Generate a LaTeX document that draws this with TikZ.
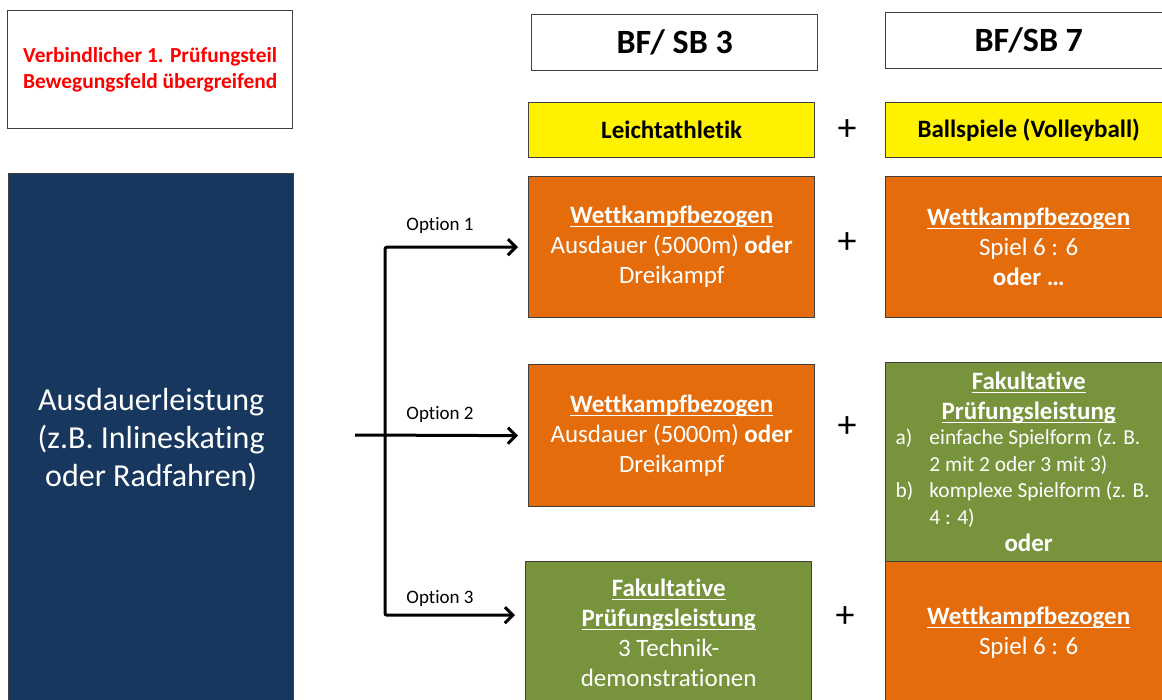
\documentclass[tikz,border=0pt]{standalone}
\usepackage{fontspec}
\setmainfont{Carlito}[Ligatures=NoCommon]
\usetikzlibrary{arrows.meta}
\definecolor{orangebox}{HTML}{E46C0A}
\definecolor{greenbox}{HTML}{77933C}
\definecolor{bluebox}{HTML}{17375E}
\newcommand{\ulhead}[1]{\underline{\raisebox{0pt}[\height][0pt]{\textbf{#1}}}}
\tikzset{
  box/.style={draw=black!75, line width=0.7pt, minimum width=143pt, inner sep=2pt, align=center, anchor=north west},
  headbox/.style={box, minimum height=28pt, font=\fontsize{17}{20}\selectfont\bfseries},
  sportbox/.style={box, fill=yellow, minimum height=27.5pt, font=\fontsize{12.5}{15}\selectfont\bfseries},
  wkbox/.style={box, fill=orangebox, text=white, font=\fontsize{12.5}{15}\selectfont},
  fakbox/.style={box, fill=greenbox, text=white, font=\fontsize{12.5}{15}\selectfont},
  plus/.style={font=\fontsize{19}{19}\selectfont},
  opt/.style={font=\fontsize{9.5}{11}\selectfont},
  arr/.style={line width=1.5pt, -{Straight Barb[length=4pt,width=8pt]}, shorten >=5pt},
}
\begin{document}
\begin{tikzpicture}[x=0.5pt,y=-0.5pt]
\path[use as bounding box, clip] (0,0) rectangle (1162,700);
% left column
\node[box, minimum width=142.5pt, minimum height=59pt, text=red, font=\fontsize{10.7}{13}\selectfont\bfseries] (pflicht) at (7,10) {Verbindlicher 1. Prüfungsteil\\Bewegungsfeld übergreifend};
\node[box, fill=bluebox, text=white, minimum width=142.5pt, minimum height=266pt, font=\fontsize{16}{19}\selectfont] (ausdauer) at (8,173) {Ausdauerleistung\\(z.B. Inlineskating\\oder Radfahren)};
% headers
\node[headbox] (bf3) at (531,14) {BF/ SB 3};
\node[headbox] (bf7) at (885,12) {BF/SB 7};
\node[sportbox] (la) at (528,102) {Leichtathletik};
\node[sportbox] (bs) at (885,102) {Ballspiele (Volleyball)};
% option 1
\node[wkbox, minimum height=70.5pt] (la1) at (528,176) {\ulhead{Wettkampfbezogen}\\Ausdauer (5000m) \textbf{oder}\\Dreikampf};
\node[wkbox, minimum height=70.5pt] (bs1) at (885,176) {\ulhead{Wettkampfbezogen}\\Spiel 6 : 6\\\textbf{oder \dots}};
% option 2
\node[wkbox, minimum height=71pt] (la2) at (528,364) {\ulhead{Wettkampfbezogen}\\Ausdauer (5000m) \textbf{oder}\\Dreikampf};
\node[fakbox, minimum height=99.5pt] (bs2) at (885,362) {\ulhead{Fakultative}\\\ulhead{Prüfungsleistung}\\
  {\fontsize{10.7}{13.3}\selectfont\begin{tabular}{@{}l@{\hspace{8pt}}l@{\hspace{6pt}}}
  a) & einfache Spielform (z. B.\\
     & 2 mit 2 oder 3 mit 3)\\
  b) & komplexe Spielform (z. B.\\
     & 4 : 4)
  \end{tabular}}\\
  \textbf{oder}};
% option 3
\node[fakbox, minimum height=71.5pt] (la3) at (525,561) {\ulhead{Fakultative}\\\ulhead{Prüfungsleistung}\\3 Technik-\\demonstrationen};
\node[wkbox, minimum height=71pt] (bs3) at (885,561) {\ulhead{Wettkampfbezogen}\\Spiel 6 : 6};
% plus signs
\node[plus] (p0) at (847,130) {+};
\node[plus] (p1) at (847,243) {+};
\node[plus] (p2) at (847,427) {+};
\node[plus] (p3) at (845,617) {+};
% options
\node[opt] (opt1) at (440,225) {Option 1};
\node[opt] (opt2) at (440,414) {Option 2};
\node[opt] (opt3) at (440,598) {Option 3};
\coordinate (start) at (355,435);
\coordinate (fork) at (385,435);
\draw[arr] (start) -- (la2.west);
\draw[arr, rounded corners=1pt] (fork) |- (la1.west);
\draw[arr, rounded corners=1pt] (fork) |- ([yshift=9pt]la3.west);
\end{tikzpicture}
\end{document}
